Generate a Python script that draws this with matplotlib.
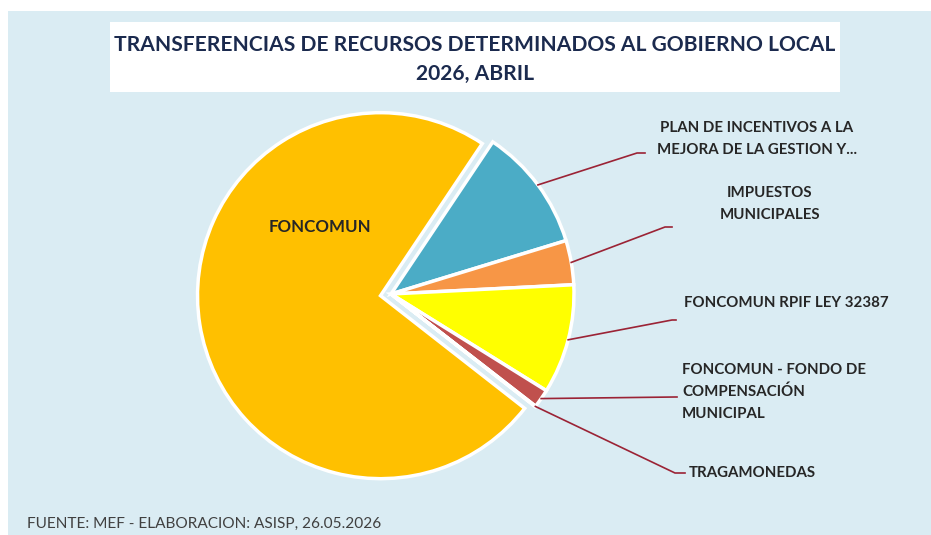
import numpy as np
import matplotlib
matplotlib.use("Agg")
import matplotlib.pyplot as plt
from matplotlib.patches import Rectangle

# datos (porcentaje aproximado)
categorias = ["FONCOMUN", "PLAN DE INCENTIVOS A LA\nMEJORA DE LA GESTION Y...",
              "IMPUESTOS\nMUNICIPALES", "FONCOMUN RPIF LEY 32387",
              "FONCOMUN - FONDO DE\nCOMPENSACIÓN\nMUNICIPAL", "TRAGAMONEDAS"]
valores = [71.8, 10.6, 3.8, 9.4, 1.6, 0.05]
colores = ["#FFC000", "#4BACC6", "#F79646", "#FFFF00", "#C0504D", "#9BBB59"]

W, H = 931, 535
fondo = "#DAECF3"
linea = "#9B2335"
texto = "#262626"

fig = plt.figure(figsize=(W / 100, H / 100), dpi=100)
fig.patch.set_facecolor("white")
ax = fig.add_axes([0, 0, 1, 1])
ax.set_xlim(0, W)
ax.set_ylim(0, H)
ax.set_aspect("equal")
ax.axis("off")

# fondo celeste y recuadro del titulo
ax.add_patch(Rectangle((8, 0), W - 8, H - 11, facecolor=fondo, edgecolor="none", zorder=0))
ax.add_patch(Rectangle((110, H - 92), 730, 70, facecolor="white", edgecolor="none", zorder=1))
ax.text(475, H - 45, "TRANSFERENCIAS DE RECURSOS DETERMINADOS AL GOBIERNO LOCAL",
        ha="center", va="center", fontsize=15.1, fontweight="bold", color="#1B2A4E",
        family="Lato", zorder=2)
ax.text(475, H - 74, "2026, ABRIL", ha="center", va="center", fontsize=15.1,
        fontweight="bold", color="#1B2A4E", family="Lato", zorder=2)

# torta (el desplazamiento de pie() va en unidades de datos)
cx, cy, r = 391, H - 294, 183
explode = [0.058 * r, 0, 0, 0, 0, 0]
wedges, _ = ax.pie(valores, colors=colores, startangle=-38, counterclock=False,
                   explode=explode, center=(cx, cy), radius=r, frame=True,
                   wedgeprops=dict(edgecolor="white", linewidth=2.5))
ax.set_xlim(0, W)
ax.set_ylim(0, H)
ax.axis("off")

ax.text(320, H - 227, "FONCOMUN", ha="center", va="center", fontsize=12.2,
        fontweight="bold", color=texto, family="Lato")

# posiciones de etiquetas: (codo x, codo y, fin x, texto x, texto y, alineacion)
etiquetas = {
    1: (637, 153, 645, 757, 139, "center"),
    2: (665, 227, 672, 770, 204, "center"),
    3: (672, 320, 676, 684, 303, "left"),
    4: (675, 397, 677, 682, 392, "left"),
    5: (675, 473, 685, 689, 473, "left"),
}
for i, (ex, ey, fx, tx, ty, al) in etiquetas.items():
    w = wedges[i]
    ang = np.deg2rad((w.theta1 + w.theta2) / 2)
    sx = w.center[0] + w.r * np.cos(ang)
    sy = w.center[1] + w.r * np.sin(ang)
    ax.plot([sx, ex, fx], [sy, H - ey, H - ey], color=linea, lw=1.2, zorder=3)
    ax.text(tx, H - ty, categorias[i], ha=al, va="center", fontsize=10.8,
            fontweight="bold", color=texto, family="Lato", linespacing=1.7,
            multialignment=al)

ax.text(27, H - 524, "FUENTE: MEF - ELABORACION: ASISP, 26.05.2026", ha="left",
        va="center", fontsize=11.1, color="#404040", family="Lato")

fig.savefig("out.png", dpi=100, facecolor=fig.get_facecolor())
